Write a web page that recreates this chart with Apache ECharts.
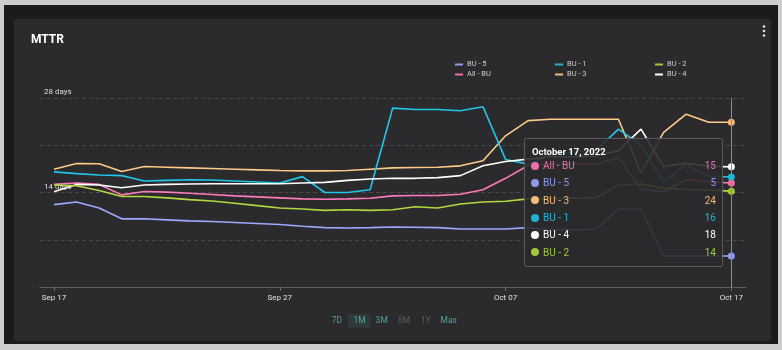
<!DOCTYPE html>
<html>
<head>
<meta charset="utf-8">
<title>MTTR</title>
<script src="https://cdn.jsdelivr.net/npm/echarts@6/dist/echarts.min.js"></script>
<style>
  html, body { margin: 0; padding: 0; background: #cdcdcd; width: 782px; height: 350px; overflow: hidden; }
  #frame { position: absolute; left: 4px; top: 5px; width: 774px; height: 339px; background: #1b1b1b; }
  #card { position: absolute; left: 14px; top: 19px; width: 757px; height: 322px; background: #2b2b2d; border-radius: 2px; }
  #chart { position: absolute; left: 0; top: 0; width: 782px; height: 350px; }
</style>
</head>
<body>
<div id="frame"></div>
<div id="card"></div>
<div id="chart"></div>
<script>
const dates = [
  "2022-09-17", "2022-09-18", "2022-09-19", "2022-09-20", "2022-09-21", "2022-09-22", "2022-09-23",
  "2022-09-24", "2022-09-25", "2022-09-26", "2022-09-27", "2022-09-28", "2022-09-29", "2022-09-30",
  "2022-10-01", "2022-10-02", "2022-10-03", "2022-10-04", "2022-10-05", "2022-10-06", "2022-10-07",
  "2022-10-08", "2022-10-09", "2022-10-10", "2022-10-11", "2022-10-12", "2022-10-13", "2022-10-14",
  "2022-10-15", "2022-10-16", "2022-10-17",
];

// MTTR in days, one value per day
const allBu = [15.2, 15.4, 15.2, 13.65, 14.15, 14.05, 13.9, 13.7, 13.5, 13.35, 13.2, 13.05, 13.0, 13.05, 13.15, 13.5,
  13.55, 13.55, 13.75, 14.4, 16.1, 18.0, 18.2, 18.2, 18.2, 19.2, 14.4, 14.15, 15.9, 15.6, 15.4];
const bu5 = [12.2, 12.6, 11.7, 10.1, 10.1, 9.95, 9.8, 9.7, 9.55, 9.4, 9.25, 9.0, 8.8, 8.75, 8.8, 8.9,
  8.85, 8.8, 8.6, 8.6, 8.6, 8.8, 8.5, 8.5, 8.55, 11.55, 11.5, 4.6, 4.6, 4.6, 4.6];
const bu3 = [17.45, 18.3, 18.25, 17.1, 17.85, 17.75, 17.65, 17.55, 17.45, 17.35, 17.25, 17.2, 17.2, 17.25, 17.45, 17.65,
  17.7, 17.75, 17.95, 18.7, 22.4, 24.65, 24.85, 24.85, 24.85, 24.85, 16.9, 22.9, 25.6, 24.4, 24.4];
const bu1 = [17.05, 16.8, 16.6, 16.5, 15.7, 15.8, 15.9, 15.85, 15.7, 15.55, 15.4, 16.35, 14.0, 14.0, 14.4, 26.5,
  26.3, 26.3, 26.1, 26.7, 18.9, 18.2, 19.6, 20.0, 20.2, 23.4, 21.0, 15.6, 18.1, 16.4, 16.3];
const bu4 = [14.1, 15.2, 15.1, 14.7, 15.1, 15.2, 15.25, 15.3, 15.3, 15.3, 15.3, 15.4, 15.5, 15.8, 16.0, 16.1,
  16.1, 16.2, 16.5, 17.95, 18.6, 18.95, 19.3, 19.3, 19.4, 20.2, 23.4, 17.85, 18.35, 17.9, 17.8];
const bu2 = [15.1, 15.0, 14.3, 13.4, 13.4, 13.2, 12.95, 12.75, 12.4, 12.05, 11.7, 11.55, 11.35, 11.45, 11.35, 11.45,
  11.9, 11.7, 12.3, 12.6, 12.7, 13.05, 13.1, 13.15, 13.2, 15.1, 15.25, 14.65, 14.45, 14.35, 14.2];

const xLabelIndexes = [0, 10, 20, 30];
const yLabelValues = [14, 28];
const ranges = ["7D", "1M", "3M", "6M", "1Y", "Max"];
const activeRange = "1M";
const disabledRanges = ["6M", "1Y"];

const MONTHS = ["January", "February", "March", "April", "May", "June", "July",
  "August", "September", "October", "November", "December"];

const shortDate = (d) => {
  const [, m, day] = d.split("-");
  return MONTHS[+m - 1].slice(0, 3) + " " + day;
};
const longDate = (d) => {
  const [y, m, day] = d.split("-");
  return `${MONTHS[+m - 1]} ${+day}, ${y}`;
};

const FONT = "Roboto";

const lines = [
  { name: "All - BU", values: allBu, color: "#ef6fab" },
  { name: "BU - 5", values: bu5, color: "#8e9af0" },
  { name: "BU - 3", values: bu3, color: "#f6b97c" },
  { name: "BU - 1", values: bu1, color: "#1db5d5" },
  { name: "BU - 4", values: bu4, color: "#ffffff" },
  { name: "BU - 2", values: bu2, color: "#a2c73b" },
];

const legendBase = {
  orient: "vertical",
  top: 55.5,
  icon: "rect",
  itemWidth: 8,
  itemHeight: 2,
  itemGap: 2,
  selectedMode: false,
  textStyle: { color: "#d0d0d0", fontSize: 7.5, fontFamily: FONT, padding: [0, 0, 0, -1] },
};

// range buttons under the chart
const rangeX = [337, 359.5, 381.7, 404, 425.8, 448.7];
const rangeGraphics = [];
ranges.forEach((r, i) => {
  if (r === activeRange) {
    rangeGraphics.push({
      type: "rect",
      shape: { x: rangeX[i] - 11.2, y: 314, width: 22.4, height: 13.7 },
      style: { fill: "#303a3b" },
    });
  }
  rangeGraphics.push({
    type: "text",
    x: rangeX[i],
    y: 321,
    style: {
      text: r,
      fill: disabledRanges.includes(r) ? "#5d5d5f" : "#4fa3a1",
      font: `8.5px ${FONT}`,
      align: "center",
      verticalAlign: "middle",
    },
  });
});

const chart = echarts.init(document.getElementById("chart"), null, { renderer: "canvas" });

chart.setOption({
  animation: false,
  backgroundColor: "transparent",
  title: {
    text: "MTTR",
    left: 26,
    top: 29,
    textStyle: { color: "#ffffff", fontSize: 12, fontWeight: "bold", fontFamily: FONT },
  },
  legend: [
    { ...legendBase, left: 450, data: ["BU - 5", "All - BU"] },
    { ...legendBase, left: 550, data: ["BU - 1", "BU - 3"] },
    { ...legendBase, left: 650, data: ["BU - 2", "BU - 4"] },
  ],
  grid: { left: 40, right: 36, top: 98, bottom: 63, outerBoundsMode: "none" },
  tooltip: {
    trigger: "axis",
    alwaysShowContent: true,
    triggerOn: "none",
    transitionDuration: 0,
    position: [524, 138],
    backgroundColor: "rgba(42, 42, 44, 0.9)",
    borderColor: "#59595b",
    borderWidth: 1,
    padding: [8, 6, 5, 6],
    extraCssText: "width:185px;border-radius:2px;box-shadow:none;",
    axisPointer: { type: "line", lineStyle: { color: "#8d8d8d", width: 1, type: "solid" } },
    formatter: (params) => {
      const idx = params[0].dataIndex;
      let html = `<div style="font:bold 9.5px ${FONT};color:#fff;line-height:10px;height:10px;margin:0 0 0 1px">${longDate(dates[idx])}</div>`;
      params.forEach((p) => {
        html +=
          `<div style="display:flex;align-items:center;height:17.3px;font:10px ${FONT};color:${p.color}">` +
          `<span style="display:inline-block;width:8px;height:8px;border-radius:50%;background:${p.color};margin-right:4px"></span>` +
          `<span style="flex:1">${p.seriesName}</span>` +
          `<span>${Math.round(p.value[1])}</span></div>`;
      });
      return html;
    },
  },
  xAxis: {
    type: "value",
    min: -0.62,
    max: 30.65,
    splitLine: { show: false },
    axisLine: { show: true, lineStyle: { color: "#5e5e60", width: 1 } },
    axisTick: { show: true, customValues: xLabelIndexes, length: 4, lineStyle: { color: "#6e6e70" } },
    axisLabel: {
      customValues: xLabelIndexes,
      formatter: (v) => shortDate(dates[v]),
      color: "#e2e2e2",
      fontSize: 8,
      fontFamily: FONT,
      margin: 7,
    },
  },
  yAxis: {
    type: "value",
    min: 0,
    max: 28,
    interval: 7,
    axisLine: { show: false },
    axisTick: { show: false },
    axisLabel: {
      inside: true,
      margin: 4,
      verticalAlign: "bottom",
      padding: [0, 0, 2, 0],
      color: "#dedede",
      fontSize: 8,
      fontFamily: FONT,
      formatter: (v) => (yLabelValues.includes(v) ? `${v} days` : ""),
    },
    splitLine: { lineStyle: { color: "#48484a", type: [4, 3], width: 1 } },
  },
  graphic: [
    { type: "circle", shape: { cx: 764, cy: 26.5, r: 1.3 }, style: { fill: "#e0e0e0" } },
    { type: "circle", shape: { cx: 764, cy: 31, r: 1.3 }, style: { fill: "#e0e0e0" } },
    { type: "circle", shape: { cx: 764, cy: 35.5, r: 1.3 }, style: { fill: "#e0e0e0" } },
    ...rangeGraphics,
  ],
  series: lines.map((l) => ({
    type: "line",
    name: l.name,
    data: l.values.map((v, i) => [i, v]),
    showSymbol: false,
    symbol: "circle",
    symbolSize: 7,
    color: l.color,
    lineStyle: { width: 1.6, color: l.color },
    itemStyle: { color: l.color },
    emphasis: { scale: false, lineStyle: { width: 1.6 } },
  })),
});

chart.dispatchAction({ type: "showTip", seriesIndex: 0, dataIndex: dates.length - 1 });
</script>
</body>
</html>
